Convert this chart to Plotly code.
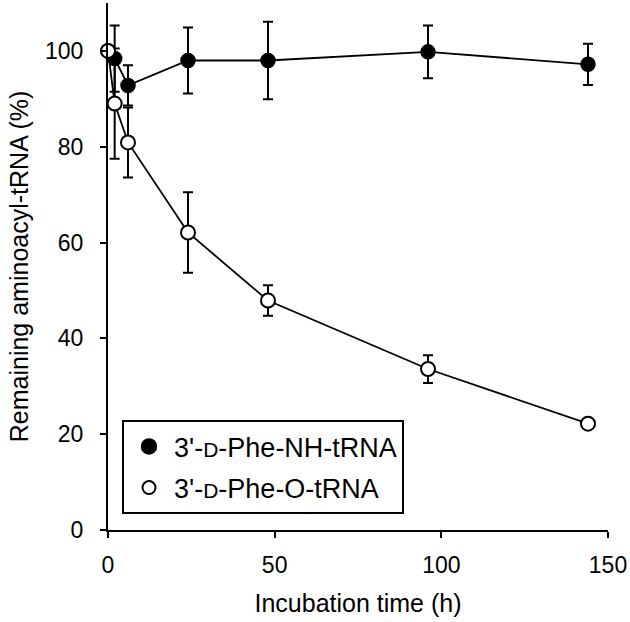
import plotly.graph_objects as go

time_h = [0, 2, 6, 24, 48, 96, 144]
nh_values = [100, 98.4, 92.8, 98.0, 98.0, 99.8, 97.2]
nh_errors = [0, 6.9, 4.2, 6.9, 8.1, 5.5, 4.3]
o_values = [100, 89.0, 80.9, 62.1, 47.9, 33.6, 22.2]
o_errors = [0, 11.5, 7.3, 8.4, 3.2, 2.9, 0.8]

x_ticks = [0, 50, 100, 150]
y_ticks = [0, 20, 40, 60, 80, 100]

nh_name = "3'-<span style='font-size:21px'>D</span>-Phe-NH-tRNA"
o_name = "3'-<span style='font-size:21px'>D</span>-Phe-O-tRNA"

FONT = "Liberation Sans, Arial, Helvetica, sans-serif"
TICK_FS = 23
TITLE_FS = 25
LEG_FS = 27

fig = go.Figure()
fig.add_trace(go.Scatter(
    x=time_h, y=nh_values, mode="lines+markers", showlegend=False,
    line=dict(color="black", width=1.8),
    marker=dict(size=14, color="black", line=dict(color="black", width=1.5)),
    error_y=dict(type="data", array=nh_errors, color="black", thickness=2, width=5),
    cliponaxis=False,
))
fig.add_trace(go.Scatter(
    x=time_h, y=o_values, mode="lines+markers", showlegend=False,
    line=dict(color="black", width=1.8),
    marker=dict(size=14, color="white", line=dict(color="black", width=2)),
    error_y=dict(type="data", array=o_errors, color="black", thickness=2, width=5),
    cliponaxis=False,
))
# legend entries (marker only, as in the reference)
fig.add_trace(go.Scatter(
    x=[None], y=[None], mode="markers", name=nh_name, legendgroup="a",
    marker=dict(size=15, color="black", line=dict(color="black", width=1.5)),
))
fig.add_trace(go.Scatter(
    x=[None], y=[None], mode="markers", name=o_name, legendgroup="b",
    marker=dict(size=13, color="white", line=dict(color="black", width=2)),
))

fig.update_layout(
    width=630, height=622,
    margin=dict(l=108, r=22, t=3, b=92),
    plot_bgcolor="white", paper_bgcolor="white",
    font=dict(family=FONT, size=TICK_FS, color="black"),
    showlegend=True,
    legend=dict(
        x=0.028, y=0.208, xanchor="left", yanchor="top",
        bordercolor="black", borderwidth=2, bgcolor="white",
        font=dict(size=LEG_FS, family=FONT, color="black"),
        traceorder="grouped", tracegroupgap=3,
        itemwidth=40,
    ),
    xaxis=dict(
        range=[0, 150], tickvals=x_ticks, showgrid=False, zeroline=False,
        showline=True, linecolor="black", linewidth=2,
        ticks="outside", ticklen=6, tickwidth=2, tickcolor="black",
        ticklabelstandoff=7,
        title=dict(text="Incubation time (h)", standoff=18, font=dict(size=TITLE_FS)),
        tickfont=dict(size=TICK_FS),
    ),
    yaxis=dict(
        range=[0, 110], tickvals=y_ticks, showgrid=False, zeroline=False,
        showline=True, linecolor="black", linewidth=2,
        ticks="outside", ticklen=6, tickwidth=2, tickcolor="black",
        ticklabelstandoff=12,
        title=dict(text="Remaining aminoacyl-tRNA (%)", standoff=9, font=dict(size=TITLE_FS)),
        tickfont=dict(size=TICK_FS),
    ),
)

fig.write_html(
    "out.html",
    config={"displayModeBar": False},
    post_script="document.body.style.margin='0px';document.body.style.overflow='hidden';",
)
